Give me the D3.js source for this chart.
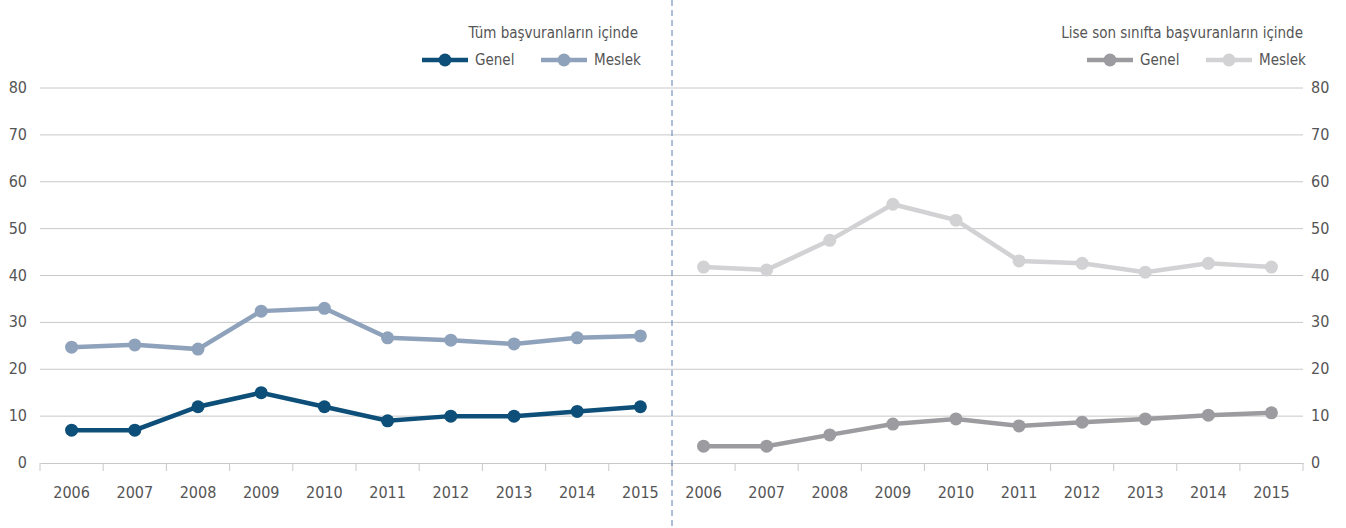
<!DOCTYPE html>
<html>
<head>
<meta charset="utf-8">
<script src="https://cdn.jsdelivr.net/npm/d3@7"></script>
<style>
    body { margin: 0; background: #fff; }
    svg text { font-family: "Liberation Sans Narrow", "DejaVu Sans Condensed", sans-serif; fill: #555; }
</style>
</head>
<body>
<div id="chart"></div>
<script>
const years = ["2006", "2007", "2008", "2009", "2010", "2011", "2012", "2013", "2014", "2015"];
const yTicks = [0, 10, 20, 30, 40, 50, 60, 70, 80];

// Tüm başvuranların içinde
const allGenel = [7, 7, 12, 15, 12, 9, 10, 10, 11, 12];
const allMeslek = [24.7, 25.2, 24.3, 32.4, 33.0, 26.7, 26.2, 25.4, 26.7, 27.1];

// Lise son sınıfta başvuranların içinde
const seniorGenel = [3.6, 3.6, 6.0, 8.3, 9.4, 7.9, 8.7, 9.4, 10.2, 10.7];
const seniorMeslek = [41.8, 41.2, 47.5, 55.2, 51.8, 43.1, 42.6, 40.7, 42.6, 41.8];

const width = 1346;
const height = 528;
const marginTop = 88;
const marginBottom = 65;

const svg = d3.select("#chart")
    .append("svg")
    .attr("width", width)
    .attr("height", height);

const y = d3.scaleLinear()
    .domain([0, 80])
    .range([height - marginBottom, marginTop]);

const panels = [
    {
        x0: 40, x1: 672, axisSide: "left", legendRight: 638,
        title: "Tüm başvuranların içinde",
        series: [
            { name: "Genel", values: allGenel, color: "#0d4f78" },
            { name: "Meslek", values: allMeslek, color: "#8fa2bb" }
        ]
    },
    {
        x0: 672, x1: 1303, axisSide: "right", legendRight: 1303,
        title: "Lise son sınıfta başvuranların içinde",
        series: [
            { name: "Genel", values: seniorGenel, color: "#9c9ca0" },
            { name: "Meslek", values: seniorMeslek, color: "#d2d2d4" }
        ]
    }
];

panels.forEach((p) => {
    const x = d3.scaleBand()
        .domain(years)
        .range([p.x0, p.x1]);

    // gridlines
    svg.append("g")
        .selectAll("line")
        .data(yTicks.filter((d) => d > 0))
        .enter()
        .append("line")
        .attr("x1", p.x0)
        .attr("x2", p.x1)
        .attr("y1", (d) => y(d))
        .attr("y2", (d) => y(d))
        .attr("stroke", "#c8c8c8")
        .attr("stroke-width", 1);

    // y labels
    svg.append("g")
        .selectAll("text")
        .data(yTicks)
        .enter()
        .append("text")
        .attr("x", p.axisSide === "left" ? 27 : 1311)
        .attr("y", (d) => y(d) + 5)
        .attr("text-anchor", p.axisSide === "left" ? "end" : "start")
        .style("font-size", "16px")
        .text((d) => d);

    // x axis
    const xAxis = svg.append("g")
        .attr("transform", `translate(0,${y(0)})`)
        .call(d3.axisBottom(x).tickSize(0).tickPadding(24));
    xAxis.select(".domain").attr("stroke", "#c8c8c8");
    xAxis.selectAll("text").style("font-size", "16px");

    // tick marks at band edges
    const edges = years.map((d) => x(d)).concat([p.x1]);
    svg.append("g")
        .selectAll("line")
        .data(edges)
        .enter()
        .append("line")
        .attr("x1", (d) => d)
        .attr("x2", (d) => d)
        .attr("y1", y(0))
        .attr("y2", y(0) + 8)
        .attr("stroke", "#c8c8c8");

    const line = d3.line()
        .x((d, i) => x(years[i]) + x.bandwidth() / 2)
        .y((d) => y(d));

    p.series.forEach((s) => {
        svg.append("path")
            .datum(s.values)
            .attr("fill", "none")
            .attr("stroke", s.color)
            .attr("stroke-width", 4.5)
            .attr("d", line);

        svg.append("g")
            .selectAll("circle")
            .data(s.values)
            .enter()
            .append("circle")
            .attr("cx", (d, i) => x(years[i]) + x.bandwidth() / 2)
            .attr("cy", (d) => y(d))
            .attr("r", 6.5)
            .attr("fill", s.color);
    });

    // title + legend, right aligned
    const rx = p.legendRight;
    svg.append("text")
        .attr("x", rx)
        .attr("y", 38)
        .attr("text-anchor", "end")
        .style("font-size", "15px")
        .text(p.title);

    const legend = [
        { s: p.series[0], lx: rx - 216, tx: rx - 163 },
        { s: p.series[1], lx: rx - 97, tx: rx - 44 }
    ];
    legend.forEach((l) => {
        const g = svg.append("g");
        g.append("line")
            .attr("x1", l.lx)
            .attr("x2", l.lx + 46)
            .attr("y1", 60)
            .attr("y2", 60)
            .attr("stroke", l.s.color)
            .attr("stroke-width", 4.5);
        g.append("circle")
            .attr("cx", l.lx + 23)
            .attr("cy", 60)
            .attr("r", 6.5)
            .attr("fill", l.s.color);
        g.append("text")
            .attr("x", l.tx)
            .attr("y", 65)
            .style("font-size", "15px")
            .text(l.s.name);
    });
});

// divider
svg.append("line")
    .attr("x1", 672)
    .attr("x2", 672)
    .attr("y1", 0)
    .attr("y2", height)
    .attr("stroke", "#5f7fb3")
    .attr("stroke-width", 1)
    .attr("stroke-dasharray", "6,4");
</script>
</body>
</html>
